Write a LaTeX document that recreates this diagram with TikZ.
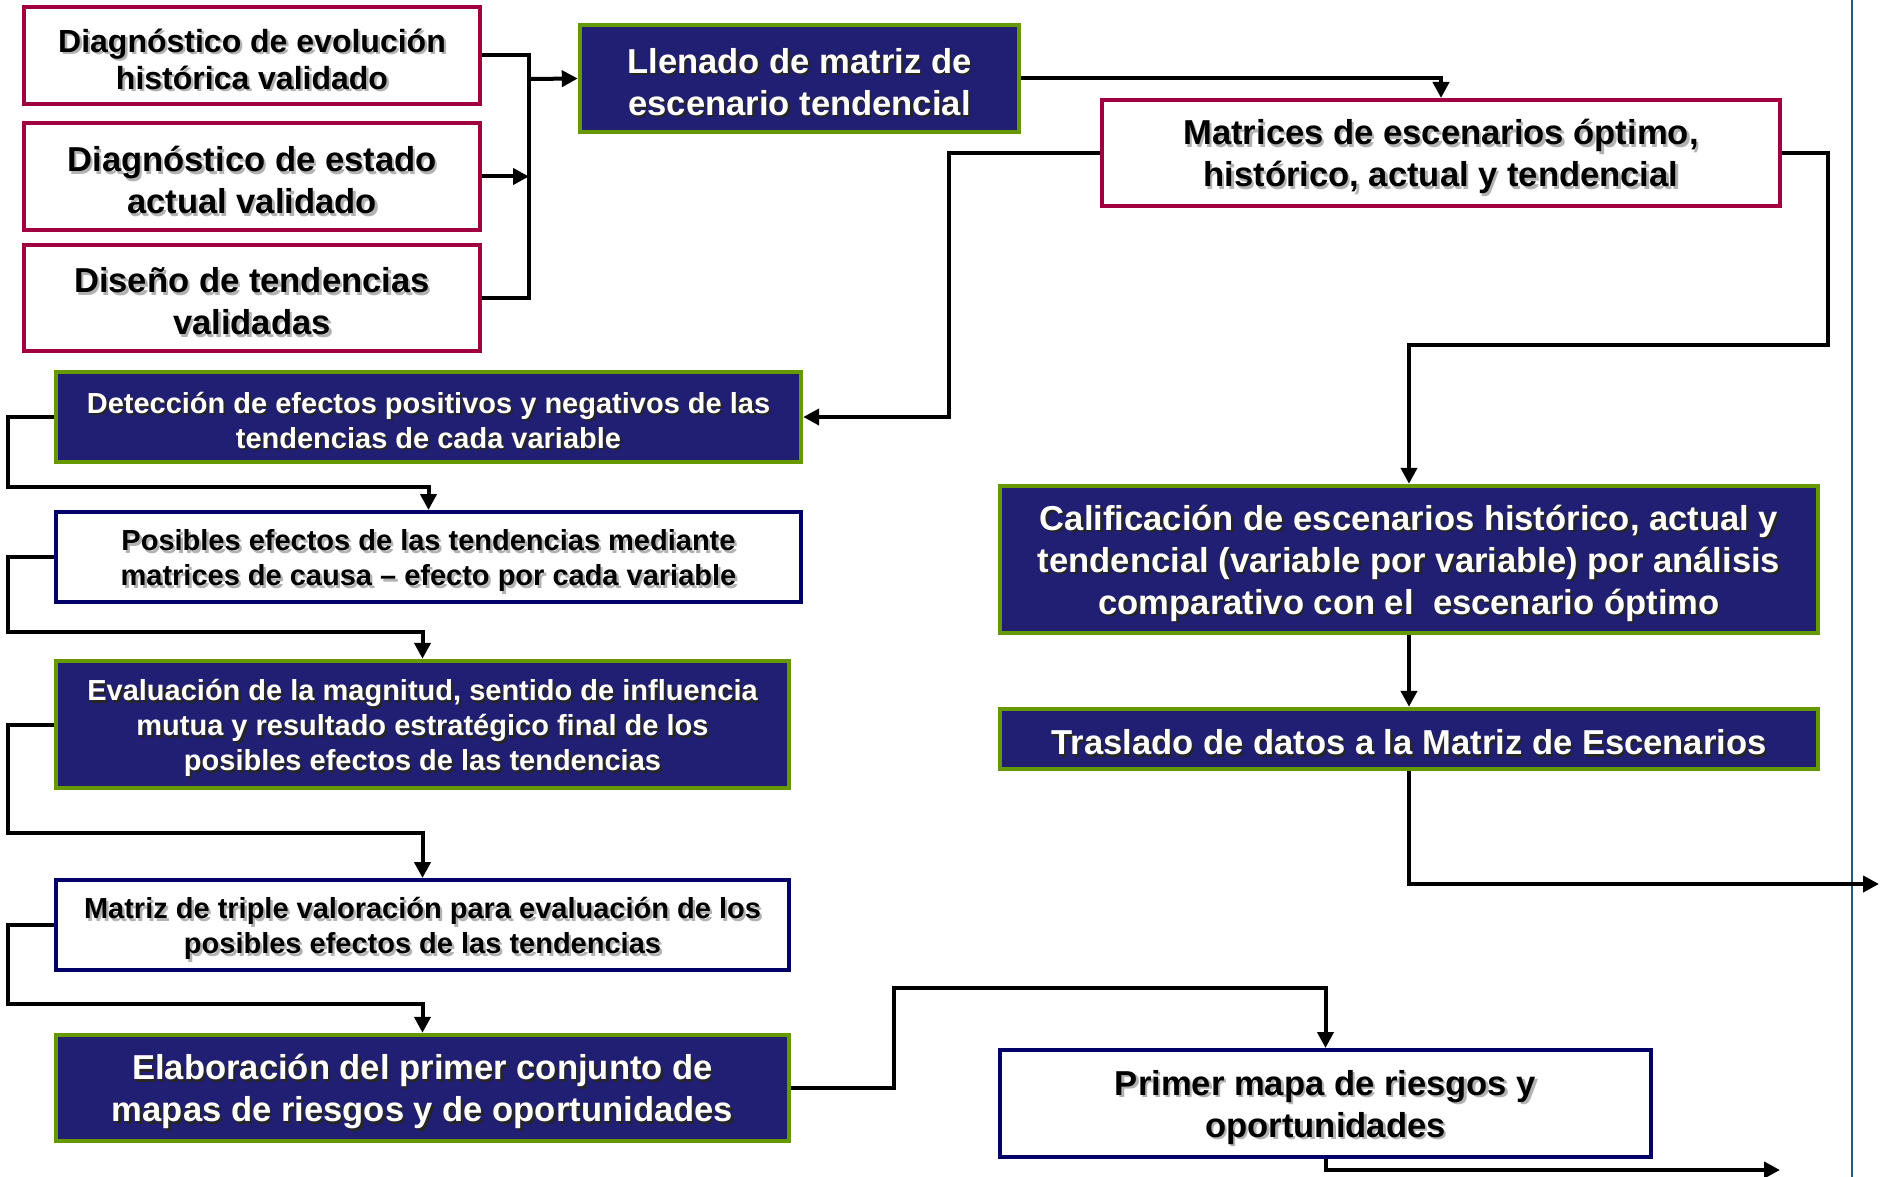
\documentclass[tikz,border=0pt]{standalone}
\usepackage{fontspec}
\setmainfont{Liberation Sans}
\usetikzlibrary{arrows.meta, positioning, calc}
\definecolor{boxnavy}{HTML}{211F73}
\definecolor{boxgreen}{HTML}{669900}
\definecolor{boxred}{HTML}{A00040}
\definecolor{linenavy}{HTML}{000066}
\definecolor{sideblue}{HTML}{1F5A80}
\colorlet{shade}{black!35}
% one line of text with a soft drop shadow, set a bit low in its box
\newcommand{\sh}[1]{\raisebox{-1.8pt}[\height][\depth]{\rlap{\hspace{1.2pt}\raisebox{-1.2pt}[0pt][0pt]{\textcolor{shade}{#1}}}#1}}

\begin{document}
\begin{tikzpicture}[
    x=0.5pt, y=-0.5pt,
    every node/.style={align=center, inner sep=0pt},
    >={Triangle[length=8pt,width=8pt]},
    flow/.style={->, draw=black, line width=2pt},
    redbox/.style={draw=boxred, fill=white, line width=2pt, text=black,
                   execute at begin node={\colorlet{shade}{black!30}}},
    greenbox/.style={draw=boxgreen, fill=boxnavy, line width=2.2pt, text=white,
                   execute at begin node={\colorlet{shade}{black!85}}},
    navybox/.style={draw=linenavy, fill=white, line width=2pt, text=black,
                   execute at begin node={\colorlet{shade}{black!30}}},
    big/.style={font=\bfseries\fontsize{17.3}{21}\selectfont},
    small/.style={font=\bfseries\fontsize{14.5}{17.5}\selectfont},
]

% Frame
\useasboundingbox (0,0) rectangle (1880,1177);
\draw[sideblue, line width=1.2pt] (1852,0) -- (1852,1177);

% === Validated diagnostics ===
\node[redbox, big, font=\bfseries\fontsize{16}{18.5}\selectfont, minimum width=228pt, minimum height=48.5pt] (evol) at (252,55.5)
      {\sh{Diagnóstico de evolución}\\\sh{histórica validado}};
\node[redbox, big, minimum width=228pt, minimum height=53.5pt] (actual) at (252,176.5)
      {\sh{Diagnóstico de estado}\\\sh{actual validado}};
\node[redbox, big, minimum width=228pt, minimum height=53pt] (tend) at (252,298)
      {\sh{Diseño de tendencias}\\\sh{validadas}};

% === Scenario matrices ===
\node[greenbox, big, minimum width=219.5pt, minimum height=53.5pt] (llenado) at (799.5,78.5)
      {\sh{Llenado de matriz de}\\\sh{escenario tendencial}};
\node[redbox, big, minimum width=339pt, minimum height=53pt] (matrices) at (1441,153)
      {\sh{Matrices de escenarios óptimo,}\\\sh{histórico, actual y tendencial}};

% === Left column ===
\node[greenbox, small, minimum width=372.5pt, minimum height=45pt] (deteccion) at (428.5,417)
      {\sh{Detección de efectos positivos y negativos de las}\\\sh{tendencias de cada variable}};
\node[navybox, small, minimum width=372.5pt, minimum height=45pt] (posibles) at (428.5,557)
      {\sh{Posibles efectos de las tendencias mediante}\\\sh{matrices de causa – efecto por cada variable}};
\node[greenbox, small, minimum width=366.5pt, minimum height=63.5pt] (evaluacion) at (422.5,724.5)
      {\sh{Evaluación de la magnitud, sentido de influencia}\\\sh{mutua y resultado estratégico final de los}\\\sh{posibles efectos de las tendencias}};
\node[navybox, small, minimum width=366.5pt, minimum height=45pt] (triple) at (422.5,925)
      {\sh{Matriz de triple valoración para evaluación de los}\\\sh{posibles efectos de las tendencias}};
\node[greenbox, big, minimum width=366.5pt, minimum height=53pt] (elaboracion) at (422.5,1088)
      {\sh{Elaboración del primer conjunto de}\\\sh{mapas de riesgos y de oportunidades}};

% === Right column ===
\node[greenbox, big, minimum width=409pt, minimum height=73.5pt] (calificacion) at (1409,559.5)
      {\sh{Calificación de escenarios histórico, actual y}\\\sh{tendencial (variable por variable) por análisis}\\\sh{comparativo con el\ \ escenario óptimo}};
\node[greenbox, big, minimum width=409pt, minimum height=30pt] (traslado) at (1409,739)
      {\sh{Traslado de datos a la Matriz de Escenarios}};
\node[navybox, big, minimum width=325.5pt, minimum height=53.5pt] (mapa) at (1325.5,1103.5)
      {\sh{Primer mapa de riesgos y}\\\sh{oportunidades}};

% Bend points
\coordinate (join) at (529,79);
\coordinate (rbend) at (1828,345);
\coordinate (l1) at (8,487);
\coordinate (l2) at (8,632);
\coordinate (l3) at (8,833);
\coordinate (l4) at (8,1004);
\coordinate (mbend) at (894,988);
\coordinate (out1) at (1879,884);
\coordinate (out2) at (1780,1170);

% === Connectors ===
\draw[line width=2pt] (evol.east) -| (join) |- (tend.east);
\draw[flow] (actual.east) -- (actual.east -| join);
\draw[flow] (join) -- (llenado.west);
\draw[flow] (llenado.east) -| (matrices.north);
\draw[flow] (matrices.west) -- ++(-151,0) |- (deteccion.east);
\draw[flow] (matrices.east) -| (rbend) -| (calificacion.north);
\draw[flow] (calificacion.south) -- (traslado.north);
\draw[flow] (traslado.south) |- (out1);

\draw[flow] (deteccion.west) -| (l1) -| (posibles.north);
\draw[flow] (posibles.west) -| (l2) -| (evaluacion.north);
\draw[flow] (evaluacion.west) -| (l3) -| (triple.north);
\draw[flow] (triple.west) -| (l4) -| (elaboracion.north);
\draw[flow] (elaboracion.east) -| (mbend) -| (mapa.north);
\draw[flow] (mapa.south) |- (out2);

\end{tikzpicture}
\end{document}
